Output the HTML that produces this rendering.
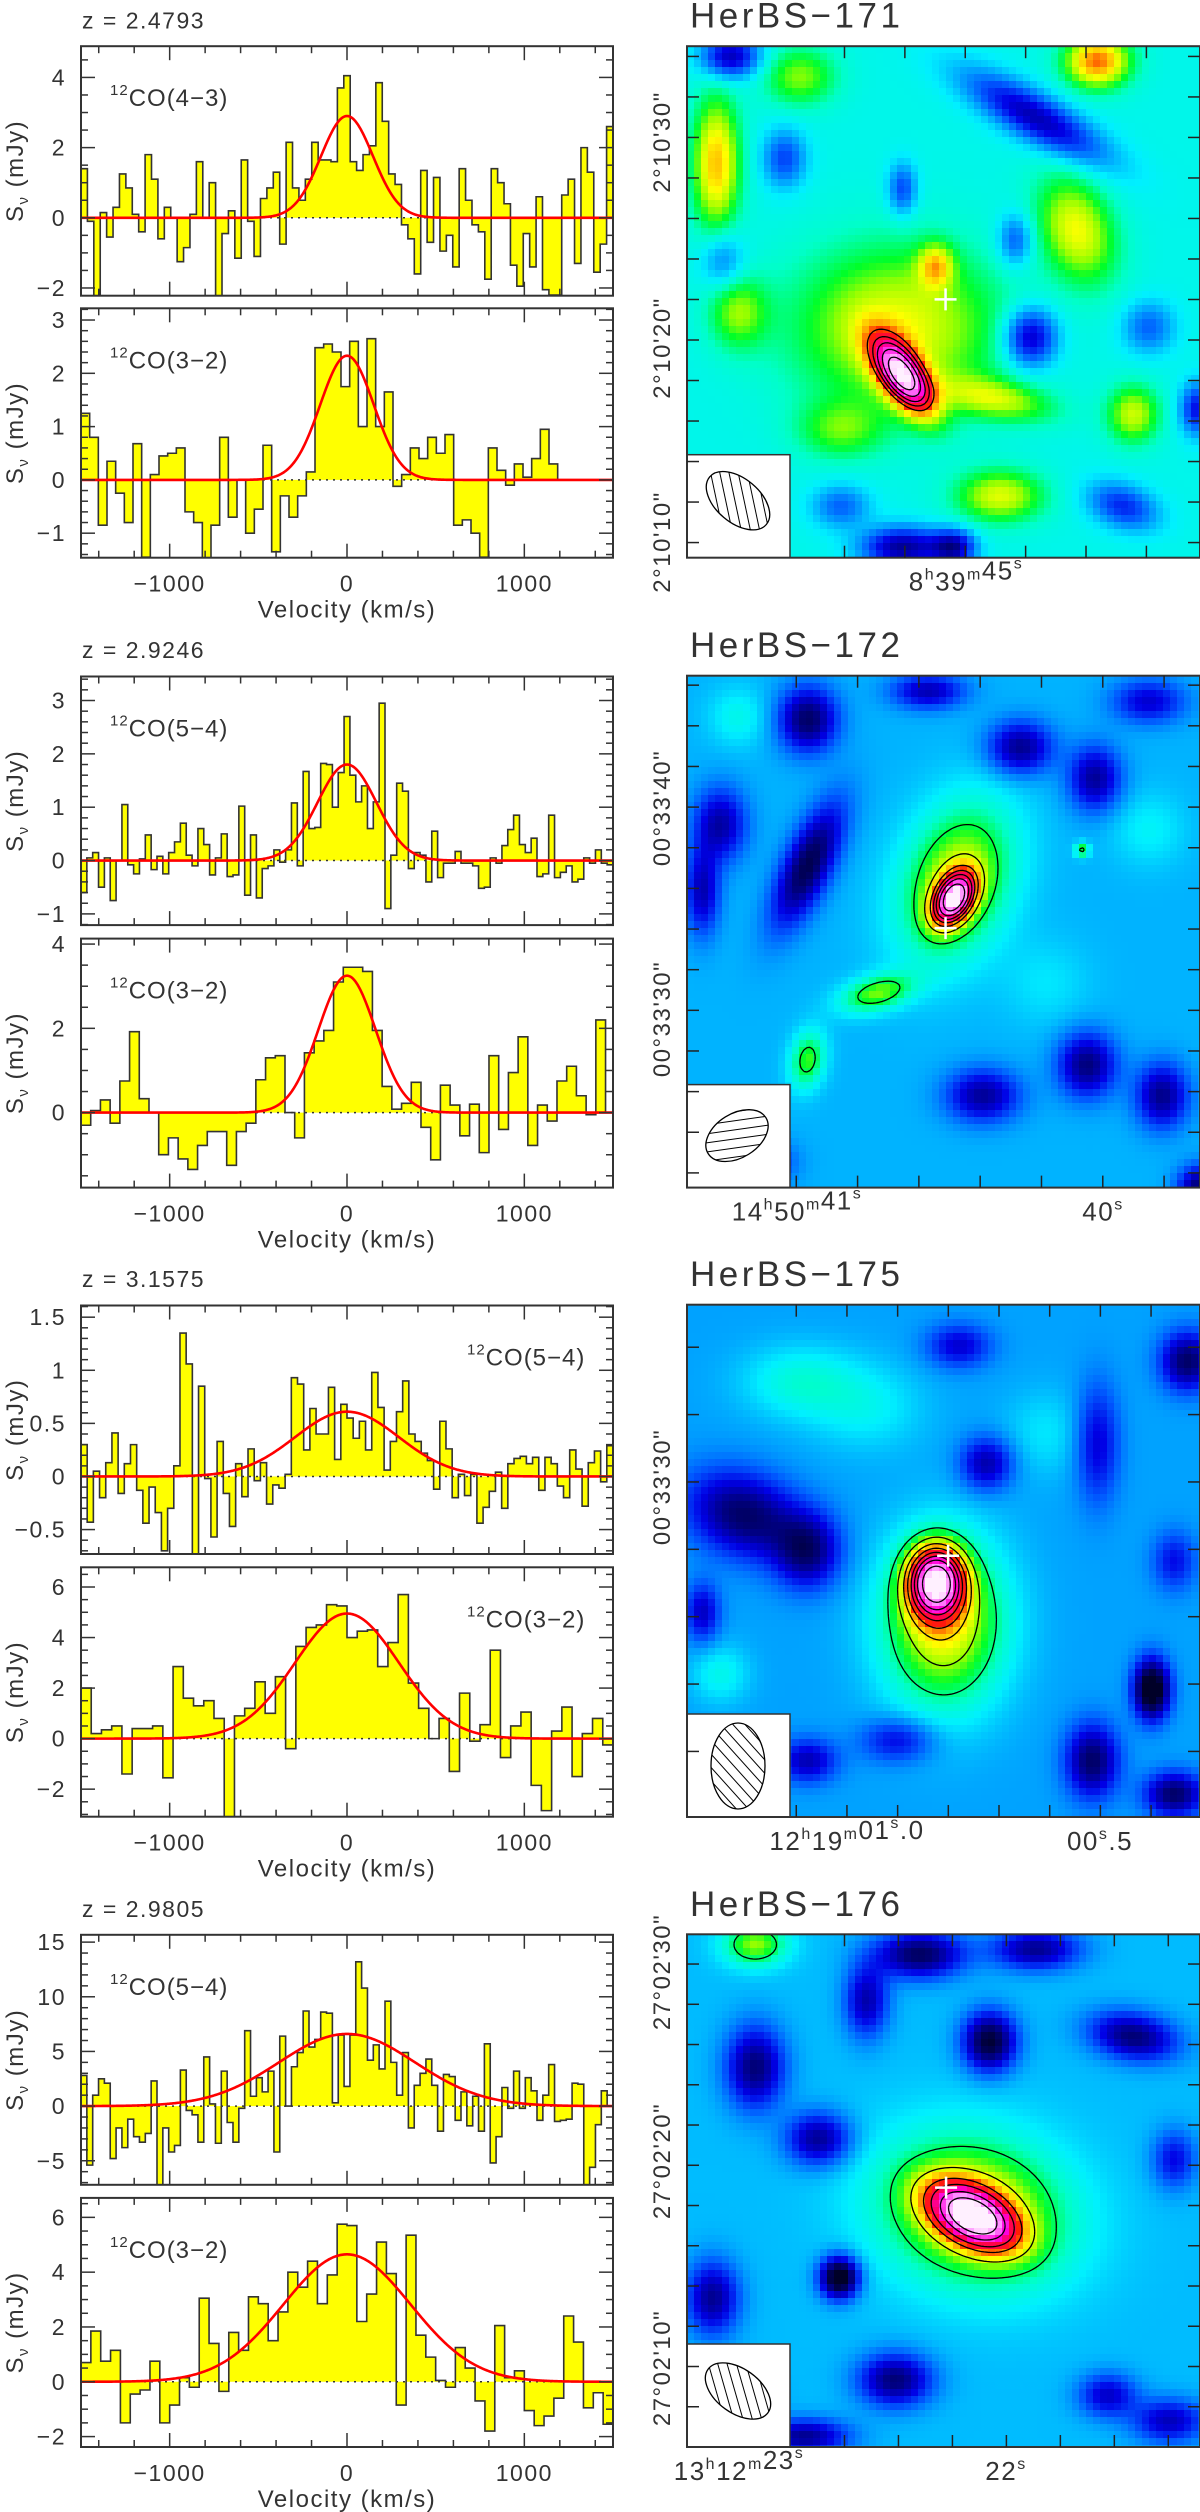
<!DOCTYPE html>
<html>
<head>
<meta charset="utf-8">
<style>
html,body{margin:0;padding:0;background:#fff;}
#root{position:relative;width:1200px;height:2512px;overflow:hidden;background:#fff;}
.mapbox{position:absolute;overflow:hidden;}
.mapbox canvas{image-rendering:pixelated;display:block;}
#ov{position:absolute;left:0;top:0;}
text{font-family:"Liberation Sans",sans-serif;fill:#333;}
</style>
</head>
<body>
<div id="root">
<svg id="ov" width="1200" height="2512" xmlns="http://www.w3.org/2000/svg"></svg>
</div>
<script>
// ---------------- spectra data ----------------
const redshifts = ['2.4793','2.9246','3.1575','2.9805'];
const sourceNames = ['HerBS−171','HerBS−172','HerBS−175','HerBS−176'];
const lineNames = ['CO(4−3)','CO(3−2)','CO(5−4)','CO(3−2)','CO(5−4)','CO(3−2)','CO(5−4)','CO(3−2)'];
const velStart = [-1500,-1500,-1500,-1500,-1500,-1500,-1500,-1500];
const velEnd = [1500,1188,1500,1458,1500,1500,1500,1500];
const gaussPeak = [2.9,2.33,1.8,3.25,0.61,4.95,6.6,4.65];
const gaussFwhm = [345,355,390,380,690,690,903,845];
const flux0 = [1.4,-0.1,-2.3,0.15,-0.55,0.3,1.25,0.85,0.1,-0.4,1.8,1.1,-0.6,0.3,0,-1.25,-0.85,0.1,1.6,0,1.0,-2.3,-0.45,0.2,-1.15,1.65,-0.1,-1.1,0.55,0.85,1.3,-0.75,2.15,0.85,0.5,1.1,2.15,1.65,1.65,1.6,3.7,4.05,1.6,1.35,1.8,2.05,3.85,2.75,1.25,0.95,-0.2,-0.6,-1.6,1.35,-0.7,1.15,-0.95,-0.5,-1.4,1.4,0.5,-0.2,-0.4,-1.75,1.4,1.0,0.4,-1.35,-1.95,-0.45,-1.4,0.6,-2.05,-2.2,-2.2,0.65,1.1,-1.3,2.0,1.3,-1.55,-0.75,2.6];
const flux1 = [1.25,0.8,-0.85,0.35,-0.25,-0.8,0.68,-1.45,0.1,0.45,0.5,0.6,-0.6,-0.8,-1.5,-0.85,0.8,-0.7,0,-1.0,-0.55,0.65,-1.35,-0.3,-0.7,-0.3,0.15,2.48,2.55,2.4,1.75,2.6,1.0,2.65,1.0,1.65,-0.12,0.1,0.6,0.4,0.8,0.5,0.85,-0.85,-0.75,-1.0,-1.45,0.6,0.18,-0.1,0.3,0.05,0.4,0.95,0.3];
const flux2 = [-0.6,0.05,0.15,-0.5,0.05,-0.75,0,1.05,-0.08,-0.25,0.03,0.48,-0.17,0.08,-0.25,0.15,0.35,0.7,0.1,-0.1,0.6,0.3,-0.27,0.05,0.5,-0.3,-0.27,1.02,-0.65,0.48,-0.7,-0.15,-0.1,0.2,-0.03,0.2,1.08,-0.1,1.67,0.6,0.62,1.82,1.8,1.0,1.65,2.7,1.6,1.1,1.4,0.6,1.1,2.95,-0.9,0.1,1.45,1.3,-0.15,0.15,0.1,-0.4,0.55,-0.32,-0.05,-0.05,0.17,-0.05,-0.05,-0.1,-0.52,-0.5,0.05,-0.05,0.28,0.58,0.85,0.3,0.15,0.42,-0.3,-0.25,0.85,-0.32,-0.22,-0.1,-0.4,-0.35,0.05,-0.05,0.2,-0.05,-0.08];
const flux3 = [-0.3,0.05,0.3,-0.25,0.75,1.92,0.33,0,-1.0,-0.6,-1.1,-1.35,-0.78,-0.45,-0.45,-1.25,-0.45,-0.25,0.78,1.3,1.35,0,-0.6,1.42,1.7,1.95,3.1,3.45,3.45,3.35,1.95,0.62,0.08,0.22,0.72,-0.35,-1.12,0.65,0.18,-0.55,0.2,-0.95,1.35,-0.4,0.95,1.8,-0.78,0.18,-0.2,0.75,1.1,0.4,-0.05,2.2];
const flux4 = [0.3,-0.43,0.05,-0.2,0.13,0.41,-0.16,0.12,0.3,-0.13,-0.44,-0.1,-0.34,-0.7,-0.3,0.1,1.35,1.06,-0.75,0.85,-0.02,-0.57,0.33,-0.16,-0.47,0.12,-0.19,0.26,-0.04,0.13,-0.26,-0.08,-0.11,0.02,0.93,0.87,0.25,0.64,0.4,0.4,0.84,0.16,0.68,0.55,0.36,0.52,0.25,0.98,0.65,0.06,0.33,0.61,0.9,0.4,0.33,0.22,0.15,-0.12,0.52,0.26,-0.2,0.02,-0.18,0.02,-0.44,-0.29,-0.14,0.04,-0.3,0.12,0.17,0.19,0.12,0.18,-0.13,0.18,0.12,-0.09,-0.2,0.25,0.07,-0.28,0.13,0.24,-0.05,0.29];
const flux5 = [2.0,0.2,0.35,0.5,-1.4,0.4,0.4,0.5,-1.55,2.85,1.6,1.3,1.5,0.8,-3.1,0.9,1.2,2.25,1.0,2.45,-0.4,3.65,4.4,4.5,5.3,5.25,4.0,4.25,4.3,2.85,3.8,5.7,2.2,1.2,0.0,0.8,-1.3,1.8,-0.1,0.55,3.5,-0.75,0.5,1.05,-1.85,-2.85,0.3,1.25,-1.5,0.2,0.8,-0.25];
const flux6 = [2.8,-5.4,1.0,2.5,2.1,-4.8,-2.0,-3.8,-1.2,-2.8,-3.3,-2.5,2.3,-7.2,-2.0,-4.2,-3.6,3.3,-0.4,-0.8,-3.3,4.5,0.2,-3.4,3.2,-1.5,-3.3,-0.2,6.9,0.9,2.6,1.3,3.2,-4.2,6.4,0,3.6,4.9,8.7,5.4,6.1,8.6,8.5,0.3,6.5,1.8,6.5,13.2,10.8,4.2,5.6,3.4,9.6,4.0,1.0,4.9,-2.0,1.9,3.0,4.3,1.9,-2.3,2.9,2.7,-1.3,1.3,-1.8,0.9,-2.3,5.7,-5.2,-2.8,1.7,-0.2,3.2,-0.2,2.6,1.4,-1.3,1.0,3.8,-1.4,-1.3,-1.2,2.1,2.0,-7.2,-5.6,-1.7,1.4,0];
const flux7 = [0.7,1.85,0.75,1.15,-1.5,-0.45,-0.3,0.75,-1.5,-0.85,0.15,-0.2,3.05,1.4,-0.35,1.8,1.15,3.1,2.85,1.5,2.55,4.0,3.45,4.4,2.85,3.9,5.75,5.7,2.2,3.2,5.1,3.95,-0.85,5.35,1.7,0.9,0.05,-0.2,1.25,0.5,-0.7,-1.8,2.05,0.15,0.4,-1.05,-1.6,-1.25,-0.6,2.4,1.45,-0.95,-0.4,-1.55];
const xTicks = [-1000,0,1000];

// ---------------- map data: [fx, fy, amplitude, sigmaX, sigmaY, angleDeg] ----------------
const mapBase = [0.15,-0.35,-0.45,-0.3];
const mapBlobs1 = [[.42,.644,5.0,30,14,55],[.41,.55,1.6,70,55,0],[.60,.69,1.3,40,14,10],[.485,.43,1.5,12,15,0],[.80,.03,2.4,22,18,0],[.057,.23,2.0,16,45,0],[.76,.36,1.6,25,38,-20],[.87,.72,1.4,18,20,0],[.61,.88,1.5,30,18,0],[.22,.06,1.1,25,20,0],[.10,.52,1.1,20,25,0],[.3,.75,0.9,30,20,0],[.085,.02,-2.0,20,15,0],[.68,.14,-2.0,55,16,30],[.19,.22,-1.2,15,20,0],[.67,.57,-2.0,18,20,0],[.42,.98,-2.2,28,14,0],[.52,.98,-2.0,15,12,0],[.85,.90,-1.4,25,15,20],[.995,.71,-1.6,12,18,0],[.64,.38,-1.1,12,18,0],[.42,.28,-1.2,10,18,0],[.07,.42,-0.9,15,20,0],[.9,.55,-1.0,18,18,0],[.3,.9,-1.0,20,15,0]];
const mapBlobs2 = [[.52,.435,5.0,19,12,-60],[.525,.40,2.0,55,36,-70],[.37,.62,1.5,26,12,-15],[.235,.75,1.4,12,20,10],[.77,.34,1.3,5,5,0],[.1,.08,0.5,20,20,0],[.9,.3,0.4,25,25,0],[.7,.6,0.3,30,30,0],[.236,.37,-2.3,16,45,25],[.236,.085,-2.1,20,22,0],[.065,.29,-1.6,18,25,0],[.65,.14,-1.8,22,18,0],[.795,.2,-1.7,18,22,0],[.78,.76,-1.9,20,22,0],[.577,.82,-1.7,25,18,0],[.926,.82,-1.8,18,22,0],[.03,.42,-1.5,12,30,0],[.47,.03,-1.5,25,12,0],[1.0,1.0,-2.0,15,15,0],[.15,.95,-1.2,20,15,0],[.9,.05,-1.3,25,15,0]];
const mapBlobs3 = [[.485,.54,5.3,19,24,0],[.50,.62,2.3,42,58,0],[.112,.41,-2.0,40,28,20],[.235,.48,-1.8,22,25,0],[.906,.75,-3.2,12,20,0],[.79,.89,-2.0,18,25,0],[.95,.955,-2.0,20,15,0],[.975,.11,-2.0,18,20,0],[.584,.31,-1.5,18,18,0],[.53,.08,-1.2,22,15,0],[.8,.27,-1.2,15,40,0],[.95,.5,-1.0,15,20,0],[.235,.89,-1.4,20,15,0],[.41,.85,-1.1,25,15,0],[.03,.6,-1.3,12,20,0],[.22,.15,0.7,40,25,0],[.065,.72,0.6,20,20,0],[.35,.2,0.5,40,30,0],[.7,.25,0.4,30,30,0]];
const mapBlobs4 = [[.557,.55,5.3,32,18,28],[.56,.54,2.2,64,50,15],[.133,.02,1.6,22,15,0],[.297,.67,-3.2,13,14,0],[.59,.21,-2.6,18,20,0],[.133,.26,-2.0,20,28,0],[.454,.04,-2.2,30,16,0],[.87,.2,-2.0,30,16,10],[.256,.4,-1.8,22,18,0],[.406,.87,-2.0,25,18,0],[.05,.71,-1.8,18,25,0],[.68,.03,-1.8,30,14,0],[.94,.95,-1.5,25,15,0],[.82,.9,-1.4,20,15,0],[.95,.44,-1.2,15,20,0],[.23,.98,-1.8,30,12,0],[.35,.13,-1.6,15,25,0],[.1,.9,-1.5,20,18,0]];
const contourLevels1 = [2.7,3.3,3.9,4.6,5.4];
const contourLevels2 = [0.8,1.6,2.4,3.0,3.6,4.3,5.2];
const contourLevels3 = [0.6,1.3,2.0,2.6,3.2,3.8,4.4,5.3];
const contourLevels4 = [0.7,1.6,2.6,3.4,4.5,5.5];
const crossPos = [[.504,.495],[.504,.493],[.509,.49],[.505,.494]];

// ---------------- layout ----------------
const NS='http://www.w3.org/2000/svg';
const svg=document.getElementById('ov');
const root=document.getElementById('root');
function mk(tag,attrs,parent){const e=document.createElementNS(NS,tag);for(const k in attrs)e.setAttribute(k,attrs[k]);(parent||svg).appendChild(e);return e;}
const PX0=81, PX1=613;
const specLayout=[
 {top:46.2,bot:295.7,ymin:-2.22,ymax:4.89,major:2,minor:0.5,right:false},
 {top:308.3,bot:557.7,ymin:-1.46,ymax:3.22,major:1,minor:0.2,right:false},
 {top:676.5,bot:925.1,ymin:-1.21,ymax:3.45,major:1,minor:0.2,right:false},
 {top:938.6,bot:1187.6,ymin:-1.78,ymax:4.13,major:2,minor:0.5,right:false},
 {top:1305.5,bot:1554,ymin:-0.73,ymax:1.61,major:0.5,minor:0.1,right:true},
 {top:1567.3,bot:1816.7,ymin:-3.09,ymax:6.78,major:2,minor:0.5,right:true},
 {top:1934.8,bot:2184.8,ymin:-7.2,ymax:15.67,major:5,minor:1,right:false},
 {top:2197.9,bot:2447,ymin:-2.38,ymax:6.71,major:2,minor:0.5,right:false}];
const fluxes=[flux0,flux1,flux2,flux3,flux4,flux5,flux6,flux7];
const zBase=[28.5,658,1287,1917];
function xS(v){return PX0+(v+1500)/3000*(PX1-PX0);}
function fmt(t){let s=String(+t.toFixed(3));return s.replace('-','−');}

mk('defs',{},svg);
specLayout.forEach((L,k)=>{
  const yS=v=>L.top+(L.ymax-v)/(L.ymax-L.ymin)*(L.bot-L.top);
  const g=mk('g',{});
  
  
  const cid='clip'+k;
  const cp=mk('clipPath',{id:cid},g);
  mk('rect',{x:PX0,y:L.top,width:PX1-PX0,height:L.bot-L.top},cp);
  const data=fluxes[k];
  const bw=(velEnd[k]-velStart[k])/data.length;
  const y0=yS(0);
  let dFill='M'+xS(velStart[k])+' '+y0, dLine='';
  data.forEach((v,i)=>{
    const xa=xS(velStart[k]+i*bw), xb=xS(velStart[k]+(i+1)*bw), y=yS(v);
    dFill+=' L'+xa+' '+y+' L'+xb+' '+y;
    dLine+=(i==0?'M'+xa+' '+y0+' L':' L')+xa+' '+y+' L'+xb+' '+y;
  });
  dFill+=' L'+xS(velEnd[k])+' '+y0+' Z';
  dLine+=' L'+xS(velEnd[k])+' '+y0;
  const cg=mk('g',{'clip-path':'url(#'+cid+')'},g);
  const fill=mk('path',{d:dFill,fill:'#ffff00',stroke:'none'},cg);
  
  
  const out=mk('path',{d:dLine,fill:'none',stroke:'#333','stroke-width':1.6},cg);
  
  
  const zl=mk('line',{x1:PX0,x2:PX1,y1:y0,y2:y0,stroke:'#333','stroke-width':1.5,'stroke-dasharray':'2 5'},cg);
  
  
  const sig=gaussFwhm[k]/2.3548;let dg='';
  for(let v=-1500;v<=1500;v+=5){const f=gaussPeak[k]*Math.exp(-0.5*v*v/(sig*sig));dg+=(v==-1500?'M':' L')+xS(v).toFixed(2)+' '+yS(f).toFixed(2);}
  const gp=mk('path',{d:dg,fill:'none',stroke:'#ff0000','stroke-width':2.6},cg);
  
  
  const fr=mk('rect',{x:PX0,y:L.top,width:PX1-PX0,height:L.bot-L.top,fill:'none',stroke:'#333','stroke-width':2},g);
  
  
  for(let v=-1400;v<=1400;v+=200){
    const len=(v%1000==0)?14:7, x=xS(v);
    mk('line',{x1:x,x2:x,y1:L.top,y2:L.top+len,stroke:'#333','stroke-width':1.5},g);
    mk('line',{x1:x,x2:x,y1:L.bot,y2:L.bot-len,stroke:'#333','stroke-width':1.5},g);
  }
  const n0=Math.ceil(L.ymin/L.minor-1e-6), n1=Math.floor(L.ymax/L.minor+1e-6);
  for(let n=n0;n<=n1;n++){
    const t=n*L.minor, isM=Math.abs(t/L.major-Math.round(t/L.major))<1e-6, len=isM?14:7, y=yS(t);
    mk('line',{x1:PX0,x2:PX0+len,y1:y,y2:y,stroke:'#333','stroke-width':1.5},g);
    mk('line',{x1:PX1,x2:PX1-len,y1:y,y2:y,stroke:'#333','stroke-width':1.5},g);
    if(isM){
      const tl=mk('text',{x:66,y:y+8,'text-anchor':'end','font-size':23,'letter-spacing':1.5},g);
      tl.textContent=fmt(t);
      
      
    }
  }
  const yc=(L.top+L.bot)/2;
  const yt=mk('text',{x:0,y:0,'text-anchor':'middle','font-size':24,'letter-spacing':1.5,transform:'translate(23,'+yc+') rotate(-90)'},g);
  yt.innerHTML='S<tspan font-size="15" dy="5">ν</tspan><tspan dy="-5">  (mJy)</tspan>';
  
  
  const lx=L.right?467:110;
  const ll=mk('text',{x:lx,y:L.top+60,'font-size':24,'letter-spacing':1},g);
  ll.innerHTML='<tspan font-size="15" dy="-11">12</tspan><tspan dy="11">'+lineNames[k]+'</tspan>';
  
  
  if(k%2==1){
    xTicks.forEach(v=>{
      const t=mk('text',{x:xS(v),y:L.bot+34,'text-anchor':'middle','font-size':23,'letter-spacing':1.5},g);
      t.textContent=fmt(v);
      
      
    });
    const vt=mk('text',{x:xS(0),y:L.bot+60,'text-anchor':'middle','font-size':24,'letter-spacing':1.5},g);
    vt.textContent='Velocity (km/s)';
    
    
  } else {
    const zt=mk('text',{x:82,y:zBase[k/2],'font-size':23,'letter-spacing':1.5},g);
    zt.textContent='z = '+redshifts[k/2];
    
    
  }
});

// ---------------- maps ----------------
const MX=687, MW=513;
const mapLayout=[
 {top:46.2,bot:557.7,tx0:.307,txs:.1177,ty0:.02,tys:.0792},
 {top:675.7,bot:1187.6,tx0:.213,txs:.1195,ty0:.0185,tys:.0794},
 {top:1304.7,bot:1817,tx0:.213,txs:.0988,ty0:.083,tys:.1315},
 {top:1934.3,bot:2447,tx0:.307,txs:.1052,ty0:.058,tys:.0785}];
const allBlobs=[mapBlobs1,mapBlobs2,mapBlobs3,mapBlobs4];
const allLevels=[contourLevels1,contourLevels2,contourLevels3,contourLevels4];
const beams=[{cx:51,cy:46,rx:37,ry:22,rot:40,hatch:78},{cx:50,cy:51,rx:34,ry:22,rot:-32,hatch:-8},{cx:51,cy:52,rx:27,ry:43,rot:0,hatch:48},{cx:51,cy:47,rx:37,ry:22,rot:36,hatch:74}];
const yLabs=[[["2°10'30\"",142],["2°10'20\"",348],["2°10'10\"",542]],[["00°33'40\"",808],["00°33'30\"",1019]],[["00°33'30\"",1487]],[["27°02'30\"",1972],["27°02'20\"",2161],["27°02'10\"",2368]]];
const xLabs=[[['8','h','39','m','45','s','',966]],[['14','h','50','m','41','s','',797],['','','','','40','s','',1103]],[['12','h','19','m','01','s','.0',847],['','','','','00','s','.5',1100]],[['13','h','12','m','23','s','',739],['','','','','22','s','',1006]]];
const cmapStops=[[-3.0,0,0,40],[-2.2,0,0,130],[-1.5,0,0,230],[-0.9,0,90,255],[-0.4,0,170,255],[0,0,240,255],[0.4,0,255,200],[0.9,0,255,40],[1.3,150,255,0],[1.8,255,255,0],[2.3,255,170,0],[2.8,255,30,0],[3.6,255,0,80],[4.3,255,0,220],[5.2,255,130,255],[6.0,255,240,255]];
function cmap(v){
  if(v<=cmapStops[0][0])return cmapStops[0].slice(1);
  for(let i=1;i<cmapStops.length;i++){
    if(v<=cmapStops[i][0]){const a=cmapStops[i-1],b=cmapStops[i],t=(v-a[0])/(b[0]-a[0]);return [a[1]+t*(b[1]-a[1]),a[2]+t*(b[2]-a[2]),a[3]+t*(b[3]-a[3])];}
  }
  return cmapStops[cmapStops.length-1].slice(1);
}
function field(blobs,base,W,H,x,y){
  let s=base;
  for(const b of blobs){
    const dx=x-b[0]*W, dy=y-b[1]*H, th=b[5]*Math.PI/180, c=Math.cos(th), sn=Math.sin(th);
    const u=dx*c+dy*sn, v=-dx*sn+dy*c;
    s+=b[2]*Math.exp(-0.5*(u*u/(b[3]*b[3])+v*v/(b[4]*b[4])));
  }
  return s;
}
function contour(F,nx,ny,st,l){
  let d='';
  const ip=(a,b)=>(l-a)/(b-a);
  for(let j=0;j<ny-1;j++)for(let i=0;i<nx-1;i++){
    const a=F[j][i],b=F[j][i+1],c=F[j+1][i+1],e=F[j+1][i];
    const idx=(a>l?8:0)|(b>l?4:0)|(c>l?2:0)|(e>l?1:0);
    if(idx==0||idx==15)continue;
    const T=[(i+ip(a,b))*st,j*st],R=[(i+1)*st,(j+ip(b,c))*st],B=[(i+ip(e,c))*st,(j+1)*st],Lp=[i*st,(j+ip(a,e))*st];
    const seg=(p,q)=>{d+='M'+p[0].toFixed(1)+' '+p[1].toFixed(1)+'L'+q[0].toFixed(1)+' '+q[1].toFixed(1);};
    switch(idx){case 1:case 14:seg(Lp,B);break;case 2:case 13:seg(B,R);break;case 3:case 12:seg(Lp,R);break;case 4:case 11:seg(T,R);break;case 5:seg(Lp,T);seg(B,R);break;case 6:case 9:seg(T,B);break;case 7:case 8:seg(Lp,T);break;case 10:seg(T,R);seg(Lp,B);break;}
  }
  return d;
}
mapLayout.forEach((M,k)=>{
  const H=M.bot-M.top, W=MW, blobs=allBlobs[k], base=mapBase[k];
  const box=document.createElement('div');
  box.className='mapbox';
  box.style.left=MX+'px';box.style.top=M.top+'px';box.style.width=W+'px';box.style.height=H+'px';
  
  
  const cell=7, nx=Math.ceil(W/cell), ny=Math.ceil(H/cell);
  const cv=document.createElement('canvas');cv.width=nx;cv.height=ny;
  cv.style.width=(nx*cell)+'px';cv.style.height=(ny*cell)+'px';
  const ctx=cv.getContext('2d'), img=ctx.createImageData(nx,ny);
  for(let j=0;j<ny;j++)for(let i=0;i<nx;i++){
    const c=cmap(field(blobs,base,W,H,(i+0.5)*cell,(j+0.5)*cell)), p=(j*nx+i)*4;
    img.data[p]=c[0];img.data[p+1]=c[1];img.data[p+2]=c[2];img.data[p+3]=255;
  }
  ctx.putImageData(img,0,0);
  box.appendChild(cv);
  root.insertBefore(box,svg);
  const g=mk('g',{transform:'translate('+MX+','+M.top+')'});
  
  
  const st=3, cnx=Math.ceil(W/st)+1, cny=Math.ceil(H/st)+1, F=[];
  for(let j=0;j<cny;j++){const r=[];for(let i=0;i<cnx;i++)r.push(field(blobs,base,W,H,i*st,j*st));F.push(r);}
  allLevels[k].forEach(l=>{
    const p=mk('path',{d:contour(F,cnx,cny,st,l),fill:'none',stroke:'#000','stroke-width':1.3},g);
    
    
  });
  const cx=crossPos[k][0]*W, cy=crossPos[k][1]*H;
  const cr=mk('path',{d:'M'+(cx-11)+' '+cy+'H'+(cx+11)+'M'+cx+' '+(cy-11)+'V'+(cy+11),stroke:'#fff','stroke-width':2.5},g);
  
  
  const bb=mk('g',{transform:'translate(0,'+(H-103)+')'},g);
  
  
  mk('rect',{x:0,y:0,width:103,height:103,fill:'#fff',stroke:'#333','stroke-width':1.5},bb);
  const B=beams[k], bid='beamclip'+k;
  const bc=mk('clipPath',{id:bid},bb);
  mk('ellipse',{cx:B.cx,cy:B.cy,rx:B.rx,ry:B.ry,transform:'rotate('+B.rot+' '+B.cx+' '+B.cy+')'},bc);
  const hg=mk('g',{'clip-path':'url(#'+bid+')'},bb);
  const hg2=mk('g',{transform:'rotate('+B.hatch+' '+B.cx+' '+B.cy+')'},hg);
  for(let o=-60;o<=60;o+=9)mk('line',{x1:B.cx-70,x2:B.cx+70,y1:B.cy+o,y2:B.cy+o,stroke:'#000','stroke-width':1},hg2);
  mk('ellipse',{cx:B.cx,cy:B.cy,rx:B.rx,ry:B.ry,fill:'none',stroke:'#000','stroke-width':1.3,transform:'rotate('+B.rot+' '+B.cx+' '+B.cy+')'},bb);
  const fr=mk('rect',{x:0,y:0,width:W,height:H,fill:'none',stroke:'#333','stroke-width':2},g);
  
  
  for(let f=M.tx0;f<1;f+=M.txs){mk('line',{x1:f*W,x2:f*W,y1:0,y2:12,stroke:'#222','stroke-width':1.5},g);mk('line',{x1:f*W,x2:f*W,y1:H,y2:H-12,stroke:'#222','stroke-width':1.5},g);}
  for(let f=M.ty0;f<1;f+=M.tys){mk('line',{x1:0,x2:12,y1:f*H,y2:f*H,stroke:'#222','stroke-width':1.5},g);mk('line',{x1:W,x2:W-12,y1:f*H,y2:f*H,stroke:'#222','stroke-width':1.5},g);}
  const tt=mk('text',{x:MX+3,y:M.top-18.5,'font-size':35,'letter-spacing':3.5});
  tt.textContent=sourceNames[k];
  
  
  yLabs[k].forEach(a=>{
    const t=mk('text',{x:0,y:0,'text-anchor':'middle','font-size':24,'letter-spacing':1.5,transform:'translate(670,'+a[1]+') rotate(-90)'});
    t.textContent=a[0];
    
    
  });
  xLabs[k].forEach(a=>{
    const t=mk('text',{x:a[7],y:M.bot+33,'text-anchor':'middle','font-size':26,'letter-spacing':1.5});
    let h='';
    if(a[0])h+=a[0]+'<tspan font-size="16" dy="-11">'+a[1]+'</tspan><tspan dy="11">'+a[2]+'</tspan><tspan font-size="16" dy="-11">'+a[3]+'</tspan><tspan dy="11"></tspan>';
    h+=a[4]+'<tspan font-size="16" dy="-11">'+a[5]+'</tspan><tspan dy="11">'+(a[6]?a[6]:'')+'</tspan>';
    t.innerHTML=h;
    
    
  });
});
</script>
</body>
</html>
